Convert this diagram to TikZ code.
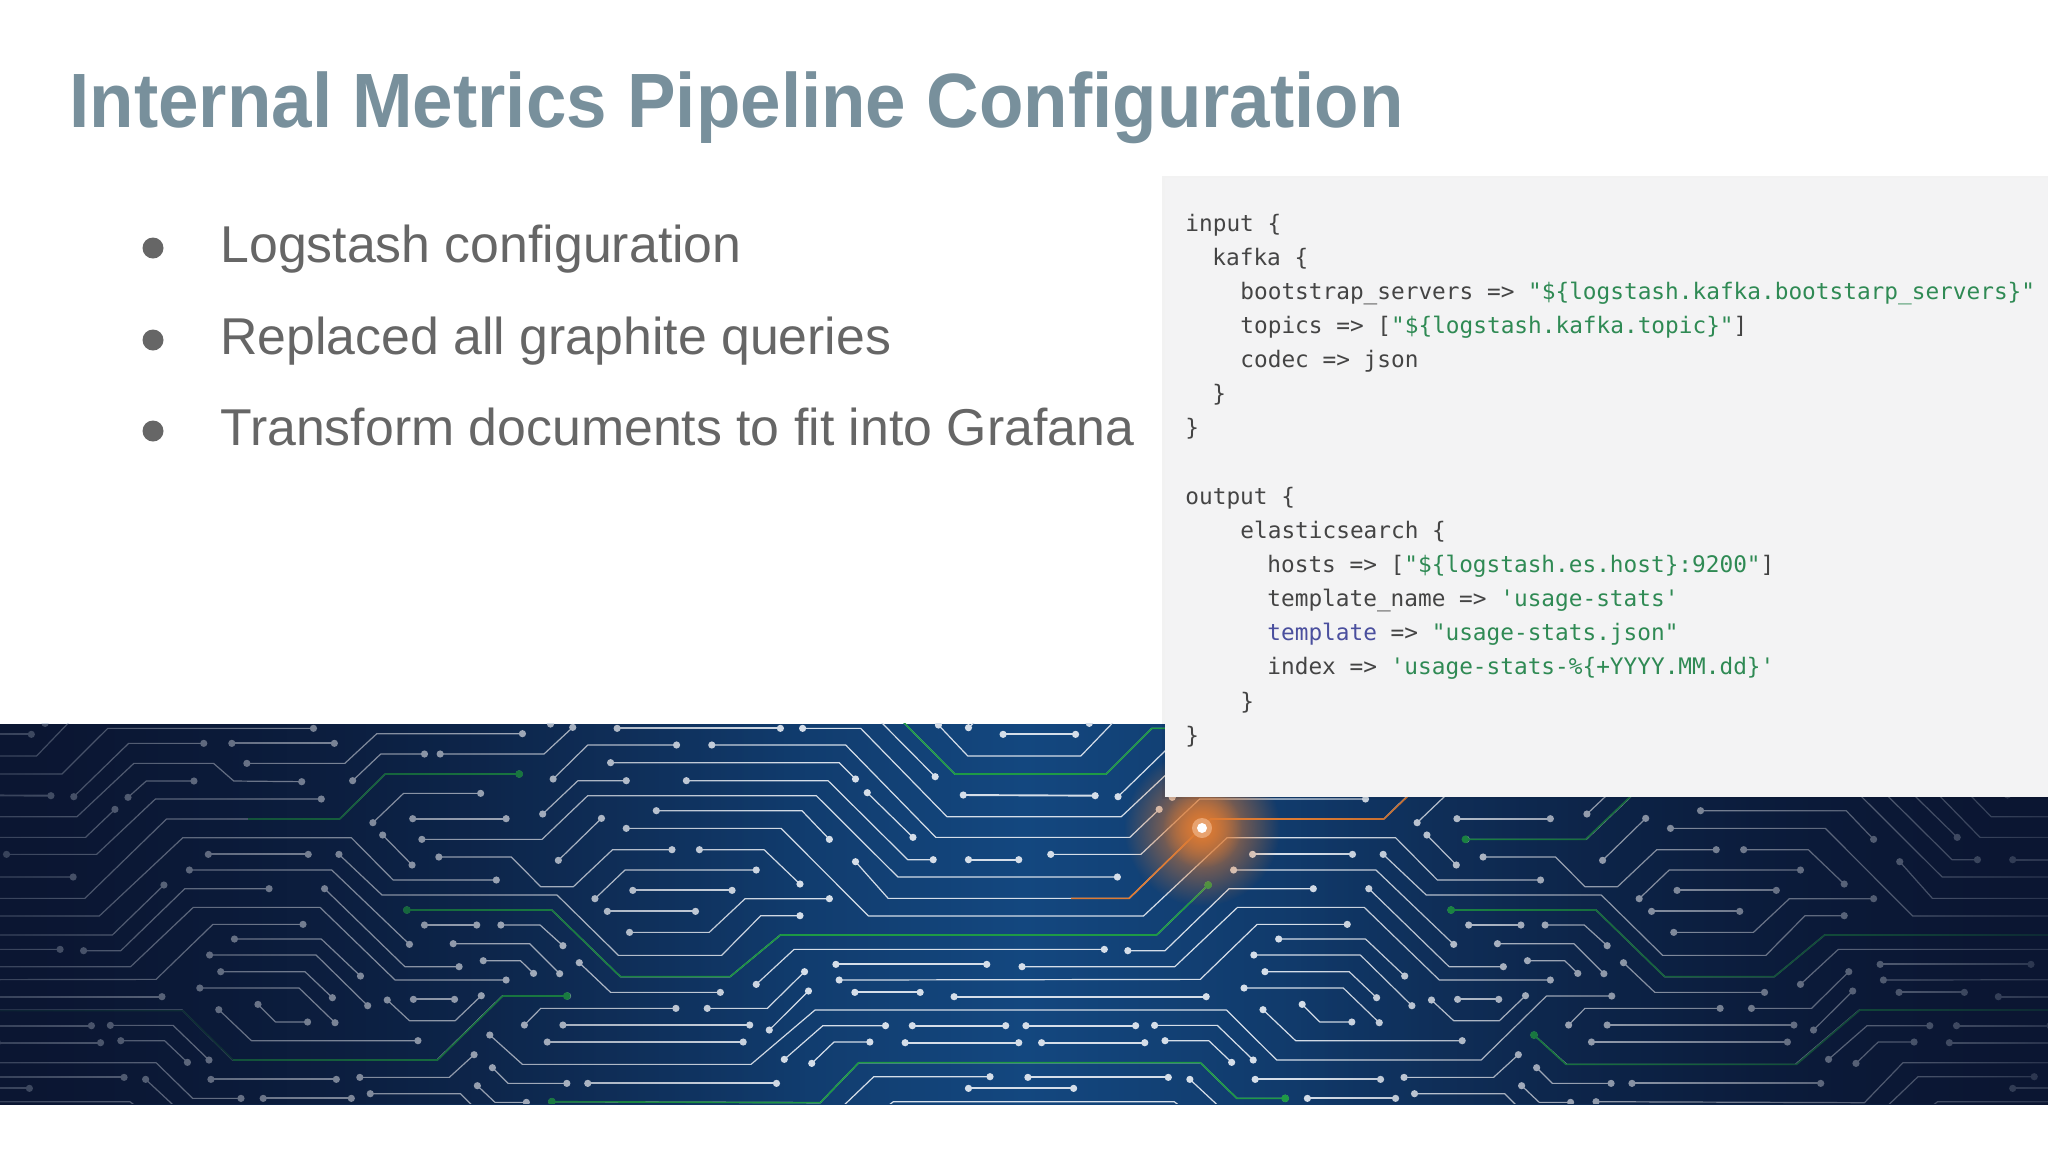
\documentclass[tikz,border=0pt]{standalone}
\usepackage{fontspec}
\setmainfont{Liberation Sans}
\newfontfamily\codefont{DejaVu Sans Mono}
\usetikzlibrary{fadings}
\definecolor{titlecol}{HTML}{78909C}
\definecolor{bodycol}{HTML}{666666}
\definecolor{panelcol}{HTML}{F3F3F4}
\definecolor{codecol}{HTML}{444444}
\definecolor{strcol}{HTML}{2F8A54}
\definecolor{kwcol}{HTML}{4A4F9E}
\definecolor{darkbg}{HTML}{0B1632}
\definecolor{midbg}{HTML}{13477F}
\definecolor{tracecol}{HTML}{D5DEE9}
\definecolor{greencol}{HTML}{1E9A45}
\definecolor{orangecol}{HTML}{DE7B33}
\tikzfading[name=fadeL, left color=transparent!22, right color=transparent!100]
\tikzfading[name=fadeR, left color=transparent!100, right color=transparent!15]
\tikzfading[name=glowfade, inner color=transparent!5, outer color=transparent!100]
\tikzset{
  tr/.style={draw=tracecol, line width=0.6pt, line join=round},
  trh/.style={draw=tracecol, line width=0.95pt},
  trg/.style={draw=greencol, line width=0.8pt, line join=round},
  tro/.style={draw=orangecol, line width=0.8pt, line join=round},
  dotn/.style={circle, fill=tracecol, inner sep=0pt, minimum size=3.6pt},
  dotg/.style={circle, fill=greencol, inner sep=0pt, minimum size=3.9pt},
  titletext/.style={anchor=base west, inner sep=0pt, text=titlecol, font=\fontsize{38.5}{46}\selectfont\bfseries},
  bullettext/.style={anchor=base west, inner sep=0pt, text=bodycol, font=\fontsize{25.9}{30}\selectfont},
  bulletdot/.style={circle, fill=bodycol, inner sep=0pt, minimum size=10.5pt},
  code/.style={anchor=base west, inner sep=0pt, text=codecol, font=\codefont\fontsize{11.38}{14}\selectfont},
}
\def\dt{node[dotn]{}}
\def\dg{node[dotg]{}}
\def\trc#1{\draw[tr] #1;}
\def\trt#1{\draw[trh] #1;}
\def\grn#1{\draw[trg] #1;}
\def\str#1{\textcolor{strcol}{#1}}
\newcommand\circuittile{%
\trc{(2079,85)\dt--(1764,85)--(1694,222)--(1462,222)--(1380,60)}
\trt{(945,85)\dt--(1195,85)\dt}
\trc{(1229,85)\dt--(1318,85)--(1450,350)--(1717,350)--(1804,190)--(1926,190)--(1957,243)--(2061,245)\dt}
\trt{(1536,103)\dt--(1647,103)\dt}
\trc{(1437,75)\dt--(1482,168)--(1655,168)--(1708,60)}
\trc{(1483,83)\dt--(1496,60)}
\trc{(1346,60)--(1432,230)\dt}
\trc{(877,82)\dt--(833,162)--(674,162)\dt}
\trc{(843,72)\dt--(850,60)}
\trc{(800,101)\dt--(577,101)--(528,190)--(378,190)\dt}
\trc{(650,162)\dt--(583,162)--(540,242)\dt}
\trt{(512,130)\dt--(355,130)\dt}
\trc{(312,130)\dt--(197,130)--(113,290)\dt}
\trt{(1475,285)\dt--(1677,287)\dt}
\trc{(297,243)\dt--(224,243)--(196,292)\dt}
\trc{(492,297)\dt--(238,297)--(148,463)--(10,463)\dt}
\trc{(1090,135)\dt--(1295,135)--(1433,412)--(1730,412)--(1775,328)\dt}
\trc{(1036,135)\dt--(900,135)--(847,237)\dt}
\trc{(935,188)\dt--(1285,188)--(1310,237)\dt}
\trc{(1051,242)\dt--(1268,242)--(1390,479)--(1429,479)\dt}
\trc{(959,242)\dt--(885,242)--(831,342)\dt}
\trc{(1328,278)\dt--(1398,412)\dt}
\trc{(646,418)\dt--(830,418)--(900,287)--(1250,287)--(1375,531)--(1711,531)\dt}
\trc{(1005,332)\dt--(1228,332)--(1270,418)\dt}
\trc{(921,355)\dt--(855,481)\dt}
\trc{(959,385)\dt--(1196,385)--(1330,648)--(1751,648)--(1879,413)--(2137,413)--(2201,540)--(2359,540)\dt}
\trt{(1483,479)\dt--(1560,479)\dt}
\trc{(1029,449)\dt--(938,449)--(878,560)--(828,560)--(783,471)--(672,471)\dt}
\trc{(1071,449)\dt--(1170,449)--(1225,552)\dt}
\trc{(1158,510)\dt--(957,510)--(911,596)\dt}
\trt{(969,571)\dt--(1121,571)\dt}
\trc{(1270,596)\dt--(1141,596)--(1086,697)--(964,697)\dt}
\trt{(930,634)\dt--(1065,634)\dt}
\trc{(519,463)\dt--(585,585)--(853,585)--(947,766)--(1105,766)--(1165,647)--(1225,647)\dt}
\trc{(290,510)\dt--(508,510)--(627,733)\dt}
\trc{(497,566)\dt--(620,800)--(703,800)\dt}
\trc{(1565,800)\dt--(1799,800)--(1895,622)--(2089,622)--(2204,840)--(2374,840)\dt}
\trc{(128,752)\dt--(185,752)--(283,566)--(412,566)\dt}
\trc{(623,630)\dt--(845,630)--(950,830)--(1118,830)--(1195,705)--(1771,705)--(1850,555)\dt}
\trc{(1158,853)\dt--(1216,748)--(1691,748)\dt}
\trc{(1232,815)\dt--(1175,925)--(1083,925)\dt}
\trt{(1280,793)\dt--(1511,793)\dt}
\trc{(1285,840)\dt--(1838,838)--(1925,673)--(2063,673)\dt}
\trt{(1309,877)\dt--(1409,877)\dt}
\trt{(1461,890)\dt--(1847,890)\dt}
\trc{(1238,873)\dt--(1178,990)\dt}
\trc{(750,1005)\dt--(800,1093)--(1150,1093)--(1248,930)--(1878,930)--(1955,1080)--(2268,1080)--(2368,888)--(2468,888)\dt}
\trc{(1356,977)\dt--(1260,977)--(1201,1078)\dt}
\trt{(1397,977)\dt--(1540,977)\dt}
\trt{(1571,977)\dt--(1739,977)\dt}
\trc{(169,976)\dt--(265,976)--(320,1080)\dt}
\trc{(1332,1026)\dt--(1277,1026)--(1243,1090)\dt}
\trt{(1386,1028)\dt--(1560,1028)\dt}
\trt{(1595,1028)\dt--(1753,1028)\dt}
\trc{(185,1022)\dt--(252,1022)--(287,1087)\dt}
\trc{(845,1205)\dt--(1256,1208)--(1315,1088)--(1838,1088)--(1894,1195)--(1968,1195)\dt}
\trc{(1516,1130)\dt--(1338,1130)--(1290,1220)}
\trt{(1574,1132)\dt--(1789,1132)\dt}
\trt{(1483,1165)\dt--(1644,1165)\dt}
\trc{(223,1138)\dt--(268,1220)}
\trt{(323,1138)\dt--(515,1138)\dt}
\trc{(551,1132)\dt--(688,1132)--(726,1064)\dt}
\trt{(403,1195)\dt--(538,1195)\dt}
\trc{(567,1181)\dt--(705,1181)--(725,1220)}
\trc{(754,1103)\dt--(778,1150)--(868,1150)\dt}
\trt{(900,1150)\dt--(1189,1150)\dt}
\trc{(731,1157)\dt--(758,1207)--(806,1207)\dt}
\trc{(1358,1220)--(1368,1205)--(1798,1205)--(1808,1220)}
\trc{(736,280)\dt--(618,280)--(571,368)\dt}
\trt{(632,356)\dt--(775,356)\dt}
\trc{(586,405)\dt--(631,495)\dt}
\trc{(795,222)\dt--(590,222)--(520,357)--(255,357)--(130,595)--(-239,595)--(-289,485)\dt}
\trt{(650,675)\dt--(730,675)\dt}
\trc{(767,675)\dt--(827,675)--(862,737)\dt}
\trc{(694,731)\dt--(811,731)--(857,821)\dt}
\trc{(740,782)\dt--(797,782)--(817,820)\dt}
\trc{(887,788)\dt--(935,877)--(1103,877)\dt}
\trc{(1035,925)\dt--(828,925)--(803,975)\dt}
\trt{(862,975)\dt--(1148,975)\dt}
\trt{(838,1026)\dt--(1138,1026)\dt}
\trc{(737,887)\dt--(697,962)--(627,962)--(593,900)\dt}
\trt{(633,898)\dt--(696,898)\dt}
\trc{(359,717)\dt--(492,717)--(552,828)\dt}
\trc{(321,765)\dt--(484,765)--(563,917)\dt}
\trc{(338,815)\dt--(467,815)--(509,893)\dt}
\trc{(306,864)\dt--(458,864)--(513,968)\dt}
\trc{(395,913)\dt--(422,966)--(471,966)\dt}
\trc{(335,929)\dt--(385,1022)--(640,1022)\dt}
\trt{(319,463)\dt--(472,463)\dt}
\trc{(69,70)\dt--(75,60)}
}
\begin{document}
\begin{tikzpicture}[x=0.5pt,y=-0.5pt]
\useasboundingbox (0,0) rectangle (2048,1152);
\fill[white] (0,0) rectangle (2048,1152);
% circuit band
\shade[left color=darkbg, right color=darkbg, middle color=midbg] (0,724) rectangle (2048,1104);
\begin{scope}[x=0.32653pt,y=-0.166667pt,yshift=-350pt]
\clip (0,70) rectangle (3136,1210);
\foreach \s in {-1599,0,1599,3198}{
  \begin{scope}[xshift=\s*0.32653pt]
  \circuittile
  \end{scope}
}
% green traces
\grn{(795,222)\dg--(590,222)--(520,357)--(380,357)}
\grn{(623,630)\dg--(845,630)--(950,830)--(1118,830)--(1195,705)--(1771,705)--(1850,555)\dg}
\grn{(2222,630)\dg--(2444,630)--(2549,830)--(2717,830)--(2794,705)--(3136,705)}
\grn{(1380,60)--(1462,222)--(1694,222)--(1764,85)--(1800,85)}
\draw[trg, greencol!45!darkbg] (0,932)--(280,932)--(357,1080);
\grn{(357,1080)--(670,1080)--(770,888)--(868,888)\dg}
\grn{(845,1205)\dg--(1256,1208)--(1315,1088)--(1838,1088)--(1894,1195)--(1968,1195)\dg}
\grn{(2244,418)\dg--(2428,418)--(2498,287)}
\grn{(2349,1005)\dg--(2398,1093)--(2751,1093)--(2848,930)--(3136,930)}
% orange trace
\draw[tro] (1640,595)--(1729,595)--(1854,357)--(2119,357)--(2155,290);
\end{scope}
% edge fades
\fill[darkbg, path fading=fadeL] (0,724) rectangle (800,1104);
\fill[darkbg, path fading=fadeR] (1300,724) rectangle (2048,1104);
% glow
\begin{scope}
\clip (0,724) rectangle (2048,1104);
\fill[orangecol, path fading=glowfade] (1202,828) circle (78);
\fill[orangecol, path fading=glowfade] (1202,828) circle (40);
\fill[orangecol!70!white] (1202,828) ellipse (10 and 10);
\fill[white] (1202,828) circle (5);
\end{scope}
% panel
\fill[black, opacity=0.05] (1162,176) rectangle (2048,799);
\fill[panelcol] (1165,178) rectangle (2048,797);
% title
\node[titletext] (title) at (69,127) {\scalebox{0.945}[1]{Internal Metrics Pipeline Configuration}};
% bullets
\node[bulletdot] (b1) at (153,248) {};
\node[bulletdot] (b2) at (153,340) {};
\node[bulletdot] (b3) at (153,431) {};
\node[bullettext] (t1) at (220,262) {Logstash configuration};
\node[bullettext] (t2) at (220,354) {Replaced all graphite queries};
\node[bullettext] (t3) at (220,445) {Transform documents to fit into Grafana};
% code
\node[code] (c1) at (1185,231) {input \{};
\node[code] (c2) at (1212,265.15) {kafka \{};
\node[code] (c3) at (1240,299.3) {bootstrap\_servers => \str{"\$\{logstash.kafka.bootstarp\_servers\}"}};
\node[code] (c4) at (1240,333.45) {topics => [\str{"\$\{logstash.kafka.topic\}"}]};
\node[code] (c5) at (1240,367.6) {codec => json};
\node[code] (c6) at (1212,401.75) {\}};
\node[code] (c7) at (1185,435.9) {\}};
\node[code] (c8) at (1185,504.2) {output \{};
\node[code] (c9) at (1240,538.35) {elasticsearch \{};
\node[code] (c10) at (1267,572.5) {hosts => [\str{"\$\{logstash.es.host\}:9200"}]};
\node[code] (c11) at (1267,606.65) {template\_name => \str{'usage-stats'}};
\node[code] (c12) at (1267,640.8) {\textcolor{kwcol}{template} => \str{"usage-stats.json"}};
\node[code] (c13) at (1267,674.95) {index => \str{'usage-stats-\%\{+YYYY.MM.dd\}'}};
\node[code] (c14) at (1240,709.1) {\}};
\node[code] (c15) at (1185,743.25) {\}};
\end{tikzpicture}
\end{document}
